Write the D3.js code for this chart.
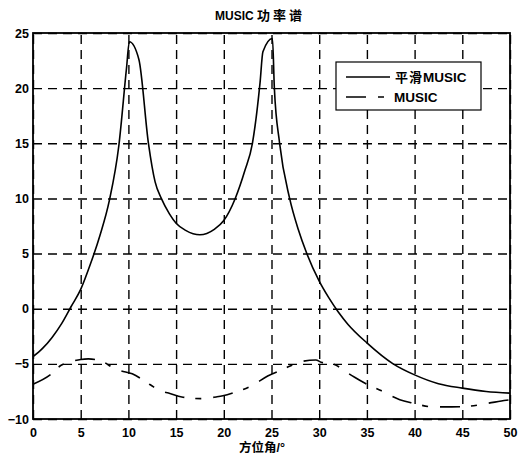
<!DOCTYPE html>
<html>
<head>
<meta charset="utf-8">
<script src="https://cdn.jsdelivr.net/npm/d3@7"></script>
<style>
  body { margin: 0; background: #fff; }
  svg { display: block; }
  text { font-family: "Liberation Sans", Arial, "Noto Sans CJK SC", sans-serif; font-weight: bold; fill: #000; }
</style>
</head>
<body>
<div id="chart"></div>
<script>
// 平滑MUSIC (solid)
var smoothAngle = [0, 1, 2, 3, 4, 5, 6, 7, 8, 9, 9.8, 10.1, 11.1, 12.1, 12.8, 13.45, 14.3, 15, 16, 17.5, 19, 20,
  21.2, 22.2, 23, 23.8, 24.1, 25.1, 25.3, 25.85, 26.9, 27.8, 28.7, 30, 31, 32, 33, 35, 37.75, 40, 42.5, 45, 47.5, 50];
var smoothPower = [-4.35, -3.6, -2.6, -1.35, 0.2, 1.75, 4, 6.6, 9.8, 14.8, 21.8, 24.2, 22.6, 15, 11.5, 10, 8.6, 7.75, 7.1, 6.7, 7.2, 8,
  10, 12.5, 15, 20.5, 23.3, 24.5, 20, 15, 10, 7.2, 5, 2.5, 1, -0.3, -1.4, -3.1, -5, -6, -6.8, -7.2, -7.5, -7.65];

// MUSIC (dash-dot)
var musicAngle = [0, 1.85, 2.9, 4, 5, 5.8, 7.2, 8.4, 9.1, 10.4, 12.3, 13.5, 14.2, 15.6, 17.6, 19.2, 19.9, 21.1, 23.1, 24.6,
  26.2, 28.1, 29.65, 30.2, 31.4, 33.3, 35, 36.4, 38.45, 39.8, 41.9, 43.9, 45.6, 47.5, 49.6, 50];
var musicPower = [-6.85, -5.97, -5.15, -4.8, -4.6, -4.55, -4.75, -5.35, -5.6, -5.9, -6.9, -7.5, -7.65, -8, -8.15, -8, -7.9, -7.6, -6.9, -6.1,
  -5.5, -4.8, -4.65, -4.85, -5, -6, -6.85, -7.4, -8.25, -8.55, -8.9, -8.9, -8.85, -8.6, -8.3, -8.25];

var xTicks = [0, 5, 10, 15, 20, 25, 30, 35, 40, 45, 50];
var yTicks = [-10, -5, 0, 5, 10, 15, 20, 25];

var width = 518, height = 461;
var plotLeft = 33, plotRight = 510, plotTop = 33, plotBottom = 419;

var svg = d3.select("#chart").append("svg")
  .attr("width", width)
  .attr("height", height);

var x = d3.scaleLinear().domain([0, 50]).range([plotLeft, plotRight]);
var y = d3.scaleLinear().domain([-10, 25]).range([plotBottom, plotTop]);

// grid + tick labels
var xAxis = svg.append("g")
  .attr("transform", "translate(0," + plotBottom + ")")
  .call(d3.axisBottom(x).tickValues(xTicks).tickSizeInner(-(plotBottom - plotTop)).tickSizeOuter(0).tickPadding(9));
var yAxis = svg.append("g")
  .attr("transform", "translate(" + plotLeft + ",0)")
  .call(d3.axisLeft(y).tickValues(yTicks).tickSizeInner(-(plotRight - plotLeft)).tickSizeOuter(0).tickPadding(4));

[xAxis, yAxis].forEach(function (g) {
  g.select(".domain").remove();
  g.selectAll(".tick line")
    .attr("stroke", "#000")
    .attr("stroke-width", 1.4)
    .attr("stroke-dasharray", "9,6");
  g.selectAll(".tick text")
    .style("font-size", "12.5px")
    .style("font-family", "'Liberation Sans', Arial, sans-serif")
    .style("font-weight", "bold");
});

var line = d3.line()
  .x(function (d) { return x(d[0]); })
  .y(function (d) { return y(d[1]); })
  .curve(d3.curveMonotoneX);

svg.append("path")
  .datum(d3.zip(smoothAngle, smoothPower))
  .attr("d", line)
  .attr("fill", "none")
  .attr("stroke", "#000")
  .attr("stroke-width", 1.6);

svg.append("path")
  .datum(d3.zip(musicAngle, musicPower))
  .attr("d", line)
  .attr("fill", "none")
  .attr("stroke", "#000")
  .attr("stroke-width", 1.6)
  .attr("stroke-dasharray", "20,11,6,12");

// frame
svg.append("rect")
  .attr("x", plotLeft)
  .attr("y", plotTop)
  .attr("width", plotRight - plotLeft)
  .attr("height", plotBottom - plotTop)
  .attr("fill", "none")
  .attr("stroke", "#000")
  .attr("stroke-width", 1.8);

// title
var title = svg.append("text")
  .attr("x", 215)
  .attr("y", 20);
title.append("tspan").style("font-size", "12px").text("MUSIC ");
title.append("tspan").style("font-size", "13px").style("letter-spacing", "3px").text("功率谱");

// x label
svg.append("text")
  .attr("x", 239)
  .attr("y", 452)
  .style("font-size", "12.5px")
  .text("方位角/°");

// legend
var legend = svg.append("g");
legend.append("rect")
  .attr("x", 336)
  .attr("y", 62)
  .attr("width", 145)
  .attr("height", 48)
  .attr("fill", "#fff")
  .attr("stroke", "#000")
  .attr("stroke-width", 1.2);

legend.append("line")
  .attr("x1", 346).attr("x2", 390)
  .attr("y1", 77).attr("y2", 77)
  .attr("stroke", "#000")
  .attr("stroke-width", 1.4);
legend.append("line")
  .attr("x1", 346).attr("x2", 384)
  .attr("y1", 97).attr("y2", 97)
  .attr("stroke", "#000")
  .attr("stroke-width", 1.4)
  .attr("stroke-dasharray", "20,12,6,12");

var l1 = legend.append("text").attr("x", 395).attr("y", 82);
l1.append("tspan").style("font-size", "13px").style("letter-spacing", "1px").text("平滑");
l1.append("tspan").style("font-size", "13.5px").text("MUSIC");
legend.append("text")
  .attr("x", 394)
  .attr("y", 102)
  .style("font-size", "13.5px")
  .text("MUSIC");
</script>
</body>
</html>
